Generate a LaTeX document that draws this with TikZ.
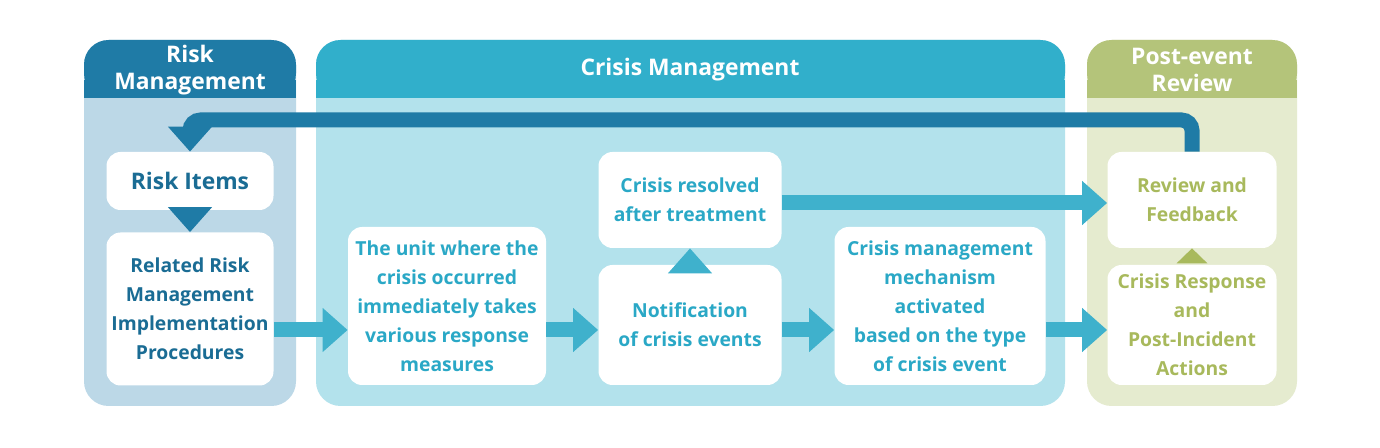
\documentclass[tikz,border=0pt]{standalone}
\usepackage{fontspec}
\setmainfont{Open Sans}
\usetikzlibrary{positioning, calc, arrows.meta}
\definecolor{rmdark}{HTML}{1F7BA6}
\definecolor{rmbody}{HTML}{BCD8E7}
\definecolor{cmdark}{HTML}{31AFCB}
\definecolor{cmbody}{HTML}{B3E2EC}
\definecolor{pedark}{HTML}{B4C47A}
\definecolor{pebody}{HTML}{E5EBCF}
\definecolor{rmtext}{HTML}{1A6C94}
\definecolor{cmtext}{HTML}{2AA8C6}
\definecolor{petext}{HTML}{A8B95C}
\tikzset{
  panel/.style={fill=#1, rounded corners=14pt, draw=none},
  box/.style={fill=white, rounded corners=8pt, draw=none, align=center, font=\bfseries\fontsize{11}{16.5}\selectfont, inner sep=0pt},
  head/.style={text=white, align=center, font=\bfseries\fontsize{13}{15}\selectfont},
  flow/.style={line width=0.3cm, -{Triangle[length=0.5cm, width=0.85cm]}, draw=#1}
}
\begin{document}
\begin{tikzpicture}[x=0.02cm, y=-0.02cm]
  \fill[white] (0,0) rectangle (1380,448);
  % panels
  \fill[panel=rmbody] (84,40) rectangle (296,406);
  \fill[panel=rmdark] (84,40) rectangle (296,98);
  \fill[rmdark] (84,80) rectangle (296,98);
  \fill[panel=cmbody] (316,40) rectangle (1065,406);
  \fill[panel=cmdark] (316,40) rectangle (1065,98);
  \fill[cmdark] (316,80) rectangle (1065,98);
  \fill[panel=pebody] (1087,40) rectangle (1297,406);
  \fill[panel=pedark] (1087,40) rectangle (1297,98);
  \fill[pedark] (1087,80) rectangle (1297,98);
  \node[head] (rmhead) at (190,70) {Risk\\Management};
  \node[head] (cmhead) at (690,70) {Crisis Management};
  \node[head] (pehead) at (1192,70) {Post-event\\Review};
  % boxes
  \node[box, text=rmtext, minimum width=167*0.02cm, minimum height=58*0.02cm, font=\bfseries\fontsize{13}{17}\selectfont] (items) at (190,181) {Risk Items};
  \node[box, text=rmtext, minimum width=167*0.02cm, minimum height=153*0.02cm] (proc) at (190,309) {Related Risk\\Management\\Implementation\\Procedures};
  \node[box, text=cmtext, minimum width=198*0.02cm, minimum height=158*0.02cm] (unit) at (447,306) {The unit where the\\crisis occurred\\immediately takes\\various response\\measures};
  \node[box, text=cmtext, minimum width=183*0.02cm, minimum height=96*0.02cm] (solved) at (690,200) {Crisis resolved\\after treatment};
  \node[box, text=cmtext, minimum width=183*0.02cm, minimum height=120*0.02cm] (notify) at (690,325) {Notification\\of crisis events};
  \node[box, text=cmtext, minimum width=211*0.02cm, minimum height=158*0.02cm] (mech) at (940,306) {Crisis management\\mechanism\\activated\\based on the type\\of crisis event};
  \node[box, text=petext, minimum width=169*0.02cm, minimum height=96*0.02cm] (review) at (1192,200) {Review and\\Feedback};
  \node[box, text=petext, minimum width=169*0.02cm, minimum height=120*0.02cm] (resp) at (1192,325) {Crisis Response\\and\\Post-Incident\\Actions};
  % arrows
  \coordinate (up) at (1192,120);
  \coordinate (rtop) at (1192,258);
  \draw[flow=rmdark] (items) -- (proc);
  \draw[flow=cmtext!90] (proc.east |- 0,330) -- (unit.west |- 0,330);
  \draw[flow=cmtext!90] (unit.east |- 0,330) -- (notify.west |- 0,330);
  \draw[flow=cmtext!90] (notify.north) -- (solved.south);
  \draw[flow=cmtext!90] (notify.east |- 0,330) -- (mech.west |- 0,330);
  \draw[flow=cmtext!90] (mech.east |- 0,330) -- (resp.west |- 0,330);
  \draw[flow=cmtext!90] (solved.east |- 0,203) -- (review.west |- 0,203);
  \draw[flow=petext, line width=0.2cm, -{Triangle[length=0.3cm, width=0.6cm]}] (rtop) -- (review.south);
  \draw[flow=rmdark, rounded corners=6pt] (review.north) -- (up) -| (items.north);
\end{tikzpicture}
\end{document}
